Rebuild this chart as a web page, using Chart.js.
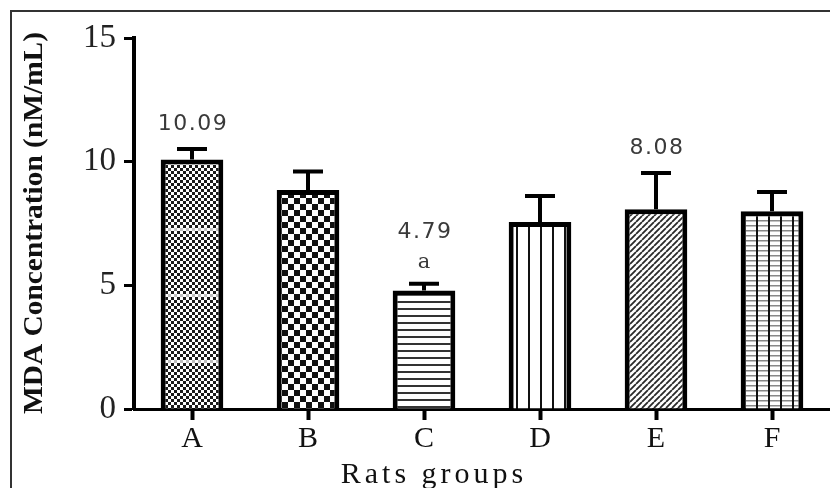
<!DOCTYPE html>
<html>
<head>
<meta charset="utf-8">
<script src="https://cdn.jsdelivr.net/npm/chart.js@4.4.1/dist/chart.umd.min.js"></script>
<style>
  html, body { margin: 0; padding: 0; background: #fff; }
  #wrap { width: 830px; height: 488px; position: relative; }
</style>
</head>
<body>
<div id="wrap"><canvas id="c" width="830" height="488"></canvas></div>
<script>
// ---- data ----
const categories = ['A', 'B', 'C', 'D', 'E', 'F'];
const meanValues = [10.09, 8.85, 4.79, 7.56, 8.08, 8.00];
const errorValues = [0.42, 0.75, 0.27, 1.05, 1.46, 0.77];
const valueLabels = ['10.09', '', '4.79', '', '8.08', ''];
const sigLabels = ['', '', 'a', '', '', ''];
const yTicks = [0, 5, 10, 15];
const yTitle = 'MDA Concentration (nM/mL)';
const xTitle = 'Rats groups';

// ---- patterns ----
function makePattern(w, h, draw) {
  const c = document.createElement('canvas');
  c.width = w; c.height = h;
  const g = c.getContext('2d');
  g.fillStyle = '#fff'; g.fillRect(0, 0, w, h);
  draw(g, w, h);
  return g.createPattern(c, 'repeat');
}
const patterns = [
  // A: fine checkerboard with light bands
  makePattern(6, 66, (g, w, h) => {
    for (let y = 0; y < h; y += 3) {
      const light = (y === 30);
      g.fillStyle = light ? '#bdbdbd' : '#1a1a1a';
      const off = (y / 3) % 2 === 0 ? 0 : 3;
      g.fillRect(off, y, 3, 3);
    }
  }),
  // B: coarse checkerboard
  makePattern(12, 12, (g) => {
    g.fillStyle = '#111';
    g.fillRect(0, 0, 6, 6);
    g.fillRect(6, 6, 6, 6);
  }),
  // C: horizontal lines
  makePattern(4, 7, (g) => {
    g.fillStyle = '#333';
    g.fillRect(0, 0, 4, 2);
  }),
  // D: vertical lines
  makePattern(12, 4, (g) => {
    g.fillStyle = '#111';
    g.fillRect(0, 0, 2, 4);
  }),
  // E: diagonal lines
  makePattern(6, 6, (g) => {
    g.strokeStyle = '#2a2a2a';
    g.lineWidth = 1.8;
    g.beginPath();
    for (let k = -1; k <= 1; k++) {
      g.moveTo(k * 6, 6); g.lineTo(k * 6 + 6, 0);
    }
    g.stroke();
  }),
  // F: grid
  makePattern(12, 5, (g) => {
    g.fillStyle = '#888';
    g.fillRect(0, 0, 12, 1.5);
    g.fillStyle = '#111';
    g.fillRect(0, 0, 2, 5);
  })
];

// ---- plugins ----
const framePlugin = {
  id: 'frame',
  beforeDraw(chart) {
    const c = chart.ctx;
    c.save();
    c.fillStyle = '#fff';
    c.fillRect(0, 0, chart.width, chart.height);
    c.strokeStyle = '#333';
    c.lineWidth = 2;
    c.beginPath();
    c.moveTo(11, chart.height); c.lineTo(11, 11); c.lineTo(chart.width, 11);
    c.stroke();
    c.restore();
  }
};

const errorPlugin = {
  id: 'errbars',
  afterDatasetsDraw(chart) {
    const c = chart.ctx;
    const ys = chart.scales.y;
    const meta = chart.getDatasetMeta(0);
    c.save();
    c.strokeStyle = '#000';
    c.lineWidth = 4;
    meta.data.forEach((bar, i) => {
      const x = bar.x;
      const y0 = ys.getPixelForValue(meanValues[i]);
      const y1 = ys.getPixelForValue(meanValues[i] + errorValues[i]);
      c.beginPath();
      c.moveTo(x, y0); c.lineTo(x, y1);
      c.moveTo(x - 15, y1); c.lineTo(x + 15, y1);
      c.stroke();
      // labels
      c.fillStyle = '#3a3a3a';
      c.textAlign = 'center';
      c.textBaseline = 'middle';
      let ly = y1 - 21;
      if (sigLabels[i]) {
        c.font = '21px "DejaVu Serif"';
        c.letterSpacing = '0px';
        c.fillText(sigLabels[i], x, ly);
        ly -= 31;
      } else {
        ly -= 4;
      }
      if (valueLabels[i]) {
        c.font = '22px "DejaVu Sans"';
        c.letterSpacing = '1.5px';
        c.fillText(valueLabels[i], x + 1, ly);
      }
    });
    c.restore();
  }
};

const titlePlugin = {
  id: 'titles',
  afterDraw(chart) {
    const c = chart.ctx;
    c.save();
    c.fillStyle = '#111';
    // y title
    c.font = 'bold 28px "Liberation Serif"';
    const w = c.measureText(yTitle).width;
    const target = 382;
    c.translate(35, 223);
    c.rotate(-Math.PI / 2);
    c.scale(target / w, 1);
    c.textAlign = 'center';
    c.textBaseline = 'middle';
    c.fillText(yTitle, 0, 0);
    c.restore();
    c.save();
    c.fillStyle = '#111';
    c.font = '30px "Liberation Serif"';
    c.letterSpacing = '4px';
    c.textAlign = 'center';
    c.textBaseline = 'alphabetic';
    c.fillText(xTitle, 434, 483);
    c.restore();
  }
};

new Chart(document.getElementById('c'), {
  type: 'bar',
  data: {
    labels: categories,
    datasets: [{
      data: meanValues,
      backgroundColor: patterns,
      borderColor: '#000',
      borderWidth: 5,
      borderSkipped: 'start',
      barPercentage: 0.54,
      categoryPercentage: 1.0
    }]
  },
  options: {
    responsive: false,
    animation: false,
    devicePixelRatio: 1,
    layout: { padding: { top: 38, right: 0, left: 0, bottom: 0 } },
    plugins: { legend: { display: false }, tooltip: { enabled: false } },
    scales: {
      x: {
        offset: true,
        grid: { display: true, drawOnChartArea: false, drawTicks: true, offset: false,
                tickLength: 11, tickWidth: 4, tickColor: '#000' },
        border: { display: true, color: '#000', width: 3 },
        ticks: { color: '#111', font: { family: 'Liberation Serif', size: 30 }, padding: 1 },
        afterFit(s) { s.height = 79; }
      },
      y: {
        min: 0, max: 15,
        afterBuildTicks(s) { s.ticks = yTicks.map(v => ({ value: v })); },
        grid: { display: true, drawOnChartArea: false, drawTicks: true,
                tickLength: 10, tickWidth: 3, tickColor: '#000' },
        border: { display: true, color: '#000', width: 4 },
        ticks: { color: '#222', font: { family: 'Liberation Serif', size: 33 }, padding: 8 },
        afterFit(s) { s.width = 134; }
      }
    }
  },
  plugins: [framePlugin, errorPlugin, titlePlugin]
});
</script>
</body>
</html>
